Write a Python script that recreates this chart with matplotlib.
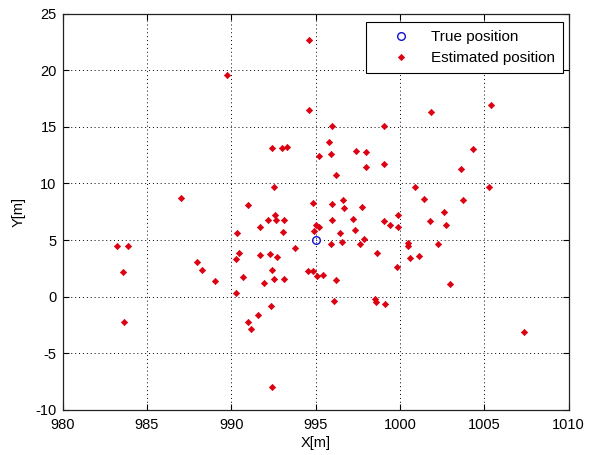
import matplotlib
matplotlib.use("Agg")
import matplotlib.pyplot as plt

true_x = [995.0]
true_y = [5.0]

est_x = [994.6, 989.75, 994.6, 1005.4, 1001.85, 992.4, 993.0, 993.3, 995.2, 992.5,
         987.0, 991.0, 994.85, 992.6, 995.95, 999.05, 995.8, 995.9, 997.4, 998.0,
         998.0, 999.05, 996.2, 1003.6, 1004.3, 1005.3, 1000.9, 1001.4, 1003.75, 995.95,
         996.6, 996.65, 997.75, 1002.6, 999.9, 992.2, 992.65, 993.1, 991.7, 990.35,
         993.05, 995.0, 995.2, 994.9, 993.8, 990.45, 990.3, 991.7, 992.3, 992.7,
         987.95, 988.25, 992.4, 994.55, 994.85, 995.05, 989.0, 990.7, 991.95, 992.5,
         993.1, 990.25, 992.35, 991.55, 991.0, 991.15, 995.95, 997.2, 999.05, 999.4,
         999.9, 1001.8, 1002.75, 996.45, 997.35, 995.9, 996.55, 997.85, 997.6, 1000.45,
         1000.5, 1002.25, 998.65, 1000.6, 1001.1, 999.8, 995.45, 996.2, 1002.95, 996.1,
         998.5, 998.55, 999.1, 983.2, 983.85, 983.6, 983.65, 992.4, 1007.35]
est_y = [22.7, 19.6, 16.5, 16.9, 16.3, 13.1, 13.1, 13.25, 12.4, 9.7,
         8.7, 8.1, 8.3, 7.25, 15.1, 15.1, 13.65, 12.6, 12.9, 12.8,
         11.5, 11.7, 10.75, 11.3, 13.05, 9.7, 9.65, 8.65, 8.55, 8.2,
         8.55, 7.8, 7.9, 7.45, 7.2, 6.8, 6.8, 6.8, 6.15, 5.65,
         5.75, 6.35, 6.2, 5.8, 4.3, 3.9, 3.3, 3.7, 3.8, 3.5,
         3.1, 2.35, 2.35, 2.3, 2.3, 1.85, 1.35, 1.7, 1.2, 1.55,
         1.55, 0.3, -0.8, -1.6, -2.25, -2.85, 6.8, 6.85, 6.7, 6.35,
         6.15, 6.7, 6.3, 5.65, 5.85, 4.65, 4.8, 5.1, 4.65, 4.75,
         4.5, 4.65, 3.9, 3.4, 3.6, 2.65, 1.95, 1.45, 1.15, -0.35,
         -0.2, -0.45, -0.65, 4.5, 4.45, 2.2, -2.25, -8.0, -3.1]

x_ticks = [980, 985, 990, 995, 1000, 1005, 1010]
y_ticks = [-10, -5, 0, 5, 10, 15, 20, 25]

plt.rcParams['font.family'] = ['Liberation Sans', 'DejaVu Sans']
plt.rcParams['font.size'] = 10.5
plt.rcParams['axes.unicode_minus'] = False

fig = plt.figure(figsize=(5.95, 4.55), dpi=100)
ax = fig.add_axes([0.1054, 0.099, 0.8504, 0.871])

ax.plot(true_x, true_y, linestyle='none', marker='o', markersize=5.5,
        markerfacecolor='none', markeredgecolor='#1010d0', markeredgewidth=1.0,
        label='True position', zorder=4)
ax.plot(est_x, est_y, linestyle='none', marker='D', markersize=3.2,
        color='#dd0010', markeredgewidth=0.5, label='Estimated position', zorder=3)

ax.set_xlim(980, 1010)
ax.set_ylim(-10, 25)
ax.set_xticks(x_ticks)
ax.set_yticks(y_ticks)
ax.tick_params(direction='in', top=True, right=True, length=4, width=0.8,
               colors='black', labelsize=10.5)
ax.tick_params(axis='x', pad=5.5)
ax.tick_params(axis='y', pad=4.3)
ax.grid(True, color='black', linestyle=(0, (1, 3)), linewidth=0.7)
for s in ax.spines.values():
    s.set_linewidth(0.9)
    s.set_color('#222222')

ax.set_xlabel('X[m]', labelpad=3, fontsize=10.5)
ax.set_ylabel('Y[m]', labelpad=7, fontsize=10.5)

leg = ax.legend(loc='upper right', bbox_to_anchor=(0.9888, 0.9788),
                fancybox=False, framealpha=1, edgecolor='black', fontsize=11,
                borderaxespad=0, handletextpad=0.17, handlelength=3.5, borderpad=0.55,
                labelspacing=0.42)
leg.get_frame().set_linewidth(0.8)

fig.savefig('out.png', dpi=100, facecolor='white')
